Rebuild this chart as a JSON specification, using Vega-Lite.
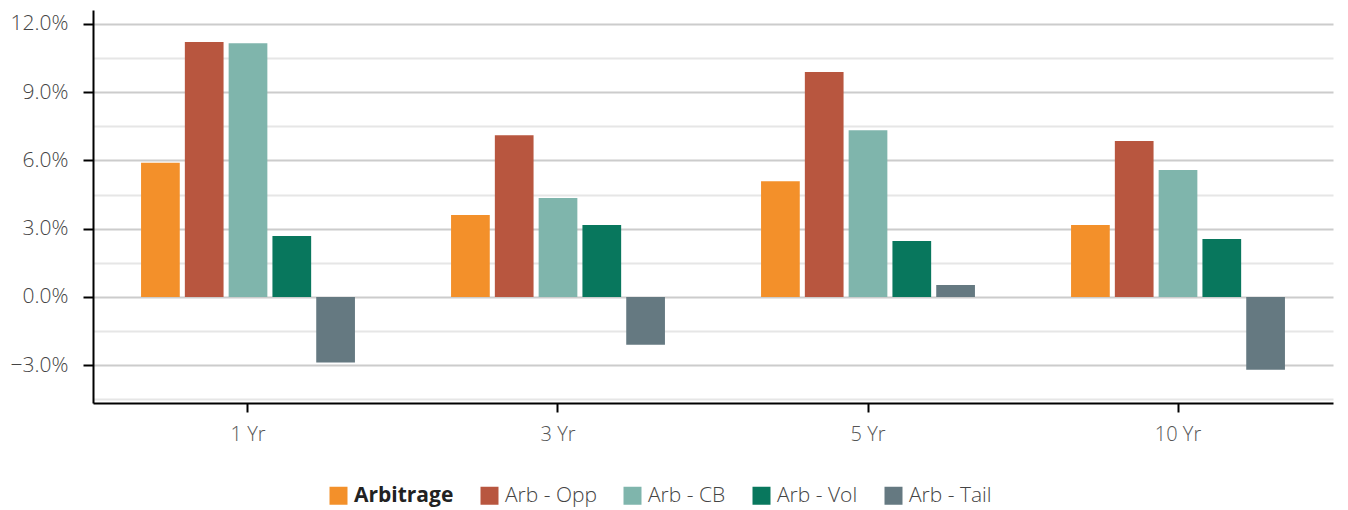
{
  "$schema": "https://vega.github.io/schema/vega-lite/v6.json",
  "width": 1240,
  "height": 393,
  "autosize": {"type": "none"},
  "padding": {"left": 93, "top": 10, "right": 15, "bottom": 107},
  "data": {
    "values": [
      {"period": "1 Yr", "series": "Arbitrage", "value": 5.90},
      {"period": "1 Yr", "series": "Arb - Opp", "value": 11.20},
      {"period": "1 Yr", "series": "Arb - CB", "value": 11.15},
      {"period": "1 Yr", "series": "Arb - Vol", "value": 2.68},
      {"period": "1 Yr", "series": "Arb - Tail", "value": -2.88},
      {"period": "3 Yr", "series": "Arbitrage", "value": 3.60},
      {"period": "3 Yr", "series": "Arb - Opp", "value": 7.11},
      {"period": "3 Yr", "series": "Arb - CB", "value": 4.35},
      {"period": "3 Yr", "series": "Arb - Vol", "value": 3.16},
      {"period": "3 Yr", "series": "Arb - Tail", "value": -2.10},
      {"period": "5 Yr", "series": "Arbitrage", "value": 5.09},
      {"period": "5 Yr", "series": "Arb - Opp", "value": 9.88},
      {"period": "5 Yr", "series": "Arb - CB", "value": 7.33},
      {"period": "5 Yr", "series": "Arb - Vol", "value": 2.46},
      {"period": "5 Yr", "series": "Arb - Tail", "value": 0.53},
      {"period": "10 Yr", "series": "Arbitrage", "value": 3.16},
      {"period": "10 Yr", "series": "Arb - Opp", "value": 6.85},
      {"period": "10 Yr", "series": "Arb - CB", "value": 5.58},
      {"period": "10 Yr", "series": "Arb - Vol", "value": 2.55},
      {"period": "10 Yr", "series": "Arb - Tail", "value": -3.20}
    ]
  },
  "mark": {"type": "bar"},
  "encoding": {
    "x": {
      "field": "period",
      "type": "nominal",
      "sort": ["1 Yr", "3 Yr", "5 Yr", "10 Yr"],
      "scale": {"paddingInner": 0.31, "paddingOuter": 0.155},
      "axis": {
        "title": null,
        "labelAngle": 0,
        "labelFont": "Open Sans",
        "labelFontWeight": 300,
        "labelFontSize": 20,
        "labelColor": "#555555",
        "labelPadding": 12,
        "domainColor": "#000000",
        "domainWidth": 2,
        "tickColor": "#000000",
        "tickWidth": 2,
        "tickSize": 9,
        "grid": false
      }
    },
    "xOffset": {
      "field": "series",
      "sort": ["Arbitrage", "Arb - Opp", "Arb - CB", "Arb - Vol", "Arb - Tail"],
      "scale": {"paddingInner": 0.116, "paddingOuter": 0}
    },
    "y": {
      "field": "value",
      "type": "quantitative",
      "scale": {"domain": [-4.66, 12.61], "nice": false, "zero": false},
      "axis": {
        "title": null,
        "values": [-4.5, -3, -1.5, 0, 1.5, 3, 4.5, 6, 7.5, 9, 10.5, 12],
        "labelExpr": "abs(datum.value % 3) < 0.01 ? format(datum.value, '.1f') + '%' : ''",
        "labelFont": "Open Sans",
        "labelFontWeight": 300,
        "labelFontSize": 21,
        "labelColor": "#444444",
        "labelPadding": 15,
        "domainColor": "#000000",
        "domainWidth": 2,
        "tickColor": {"condition": {"test": "abs(datum.value % 3) < 0.01", "value": "#000000"}, "value": "transparent"},
        "tickWidth": 2,
        "tickSize": 10,
        "grid": true,
        "gridColor": {"condition": {"test": "abs(datum.value % 3) < 0.01", "value": "#cccccc"}, "value": "#e6e6e6"},
        "gridWidth": 2
      }
    },
    "color": {
      "field": "series",
      "type": "nominal",
      "sort": ["Arbitrage", "Arb - Opp", "Arb - CB", "Arb - Vol", "Arb - Tail"],
      "scale": {
        "domain": ["Arbitrage", "Arb - Opp", "Arb - CB", "Arb - Vol", "Arb - Tail"],
        "range": ["#F3902A", "#B8563F", "#7FB5AC", "#08775D", "#657981"]
      },
      "legend": {
        "title": null,
        "orient": "none",
        "legendX": 235,
        "legendY": 475,
        "direction": "horizontal",
        "symbolType": "square",
        "symbolSize": 324,
        "symbolStrokeWidth": 0,
        "labelFont": "Open Sans",
        "labelFontSize": 21,
        "labelColor": "#333333",
        "labelOffset": 5,
        "columnPadding": 25,
        "padding": 0,
        "encode": {
          "labels": {
            "update": {
              "fontWeight": {"signal": "datum.value === 'Arbitrage' ? 'bold' : 300"},
              "fill": {"signal": "datum.value === 'Arbitrage' ? '#222222' : '#444444'"}
            }
          }
        }
      }
    }
  },
  "config": {"view": {"stroke": null}}
}
